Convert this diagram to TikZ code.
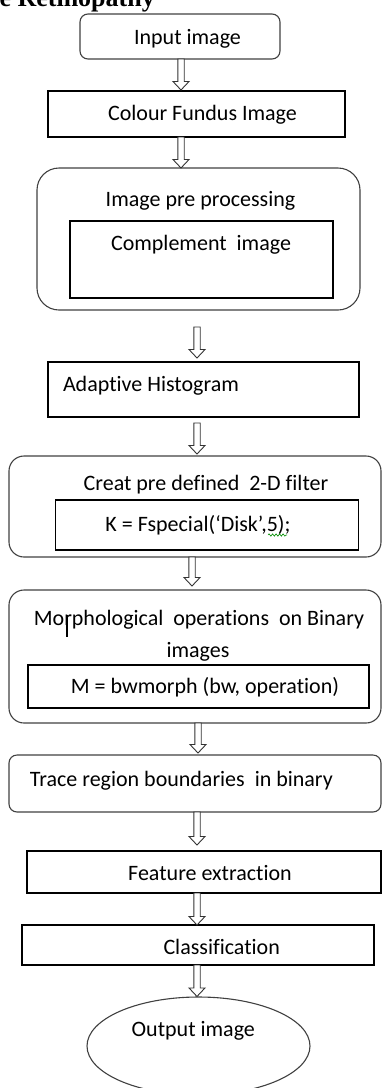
\documentclass[tikz,border=0pt]{standalone}
\usepackage{fontspec}
\setmainfont{Carlito}[Ligatures={NoCommon}]
\newfontfamily\headfont{Liberation Serif}
\usetikzlibrary{calc,shapes.geometric,decorations.pathmorphing}
\newcommand\flowarrow[5]{%
  \path (#1,0) coordinate (ax);
  \draw[arr] let \p1=(ax |- #2.south), \p2=(ax |- #3.north) in
    (\x1-3.2pt,\y1-#4pt) -- (\x1-3.2pt,\y2+#5pt+8.5pt) -- (\x1-8pt,\y2+#5pt+8.5pt)
    -- (\x1,\y2+#5pt) -- (\x1+8pt,\y2+#5pt+8.5pt) -- (\x1+3.2pt,\y2+#5pt+8.5pt)
    -- (\x1+3.2pt,\y1-#4pt) -- cycle;
}
\begin{document}
\begin{tikzpicture}[x=1pt,y=-1pt,
  box/.style={draw=black, line width=1.1pt, inner sep=0pt, outer sep=0pt},
  rbox/.style={draw=black!75, line width=1.1pt, inner sep=0pt, outer sep=0pt, rounded corners=#1},
  lbl/.style={inner sep=0pt, outer sep=0pt, anchor=base, font=\fontsize{22}{26}\selectfont},
  arr/.style={draw=black!80, line width=0.9pt, fill=white, line join=miter}
]
\useasboundingbox (0,0) rectangle (382,1088);

\node[anchor=base east, inner sep=0pt, font=\headfont\bfseries\fontsize{26}{30}\selectfont] (hdr) at (155,6) {e Retinopathy};

% boxes
\node[rbox=8pt, minimum width=200pt, minimum height=45pt] (b1) at (180,36.5) {};
\node[box, minimum width=297pt, minimum height=46pt] (b2) at (196.5,114) {};
\node[rbox=22pt, minimum width=323pt, minimum height=142pt] (b3) at (198.5,239) {};
\node[box, minimum width=263pt, minimum height=77pt] (b3i) at (201.5,259.5) {};
\node[box, minimum width=311pt, minimum height=55pt] (b4) at (203.5,389.5) {};
\node[rbox=15pt, minimum width=372pt, minimum height=101pt] (b5) at (195,506.5) {};
\node[box, minimum width=303pt, minimum height=50pt] (b5i) at (206.7,525) {};
\node[rbox=15pt, minimum width=372pt, minimum height=133pt] (b6) at (195,656.5) {};
\node[box, minimum width=341pt, minimum height=43pt] (b6i) at (198.5,686.5) {};
\node[rbox=8pt, minimum width=372pt, minimum height=57pt] (b7) at (195,783.5) {};
\node[box, minimum width=354pt, minimum height=42pt] (b8) at (204,872) {};
\node[box, minimum width=352pt, minimum height=40pt] (b9) at (198,945) {};
\node[ellipse, draw=black!75, line width=1.1pt, inner sep=0pt, minimum width=223pt, minimum height=98pt] (out) at (198.5,1046) {};

% labels
\node[lbl] (t1) at (187.5,44) {Input image};
\node[lbl] (t2) at (202.5,120.5) {Colour Fundus Image};
\node[lbl] (t3) at (200.5,206.5) {Image pre processing};
\node[lbl] (t3i) at (201,250) {Complement\ \ image};
\node[lbl, anchor=base west] (t4) at (63,391.5) {Adaptive Histogram};
\node[lbl] (t5) at (206,490) {Creat pre defined\ \ 2-D filter};
\node[lbl] (t5i) at (198,531) {K = Fspecial(‘Disk’,5);};
\node[lbl] (t6a) at (199,625) {Morphological\ \ operations\ \ on Binary};
\node[lbl] (t6b) at (198,657) {images};
\node[lbl] (t6i) at (205,693) {M = bwmorph (bw, operation)};
\node[lbl, anchor=base west] (t7) at (30,786.5) {Trace region boundaries\ \ in binary};
\node[lbl] (t8) at (210,880) {Feature extraction};
\node[lbl] (t9) at (221.7,954) {Classification};
\node[lbl] (t10) at (193.3,1036.5) {Output image};

% artifacts
\draw[green!55!black, line width=0.6pt, decorate, decoration={snake, amplitude=1.2pt, segment length=3.5pt}] (268,535) -- (287,535);
\draw[line width=2pt] (67,615) -- (67,637);

% arrows
\flowarrow{181}{b1}{b2}{0}{1}
\flowarrow{181}{b2}{b3}{0}{0}
\flowarrow{197}{b3}{b4}{17}{4}
\flowarrow{197}{b4}{b5}{6}{2}
\flowarrow{192}{b5}{b6}{0}{4}
\flowarrow{198}{b6}{b7}{0}{2}
\flowarrow{197}{b7}{b8}{0}{6}
\flowarrow{197}{b8}{b9}{0}{0}
\flowarrow{197}{b9}{out}{0}{0}
\end{tikzpicture}
\end{document}
